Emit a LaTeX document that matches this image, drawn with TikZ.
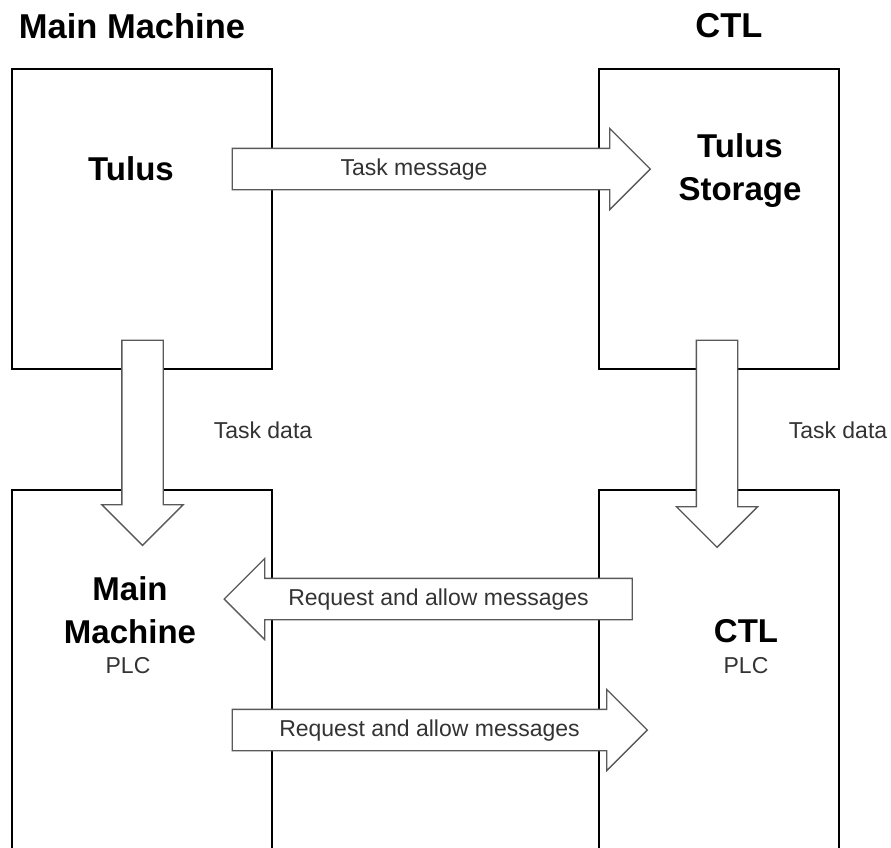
\documentclass[tikz,border=0pt]{standalone}
\usepackage{fontspec}
\setmainfont{Liberation Sans}
\usetikzlibrary{shapes.arrows,positioning}

\begin{document}
\begin{tikzpicture}[
  x=1pt, y=-1pt,
  box/.style={draw, line width=1.1pt, inner sep=0pt},
  head/.style={font=\bfseries\fontsize{33}{43}\selectfont, anchor=base, align=center},
  title/.style={head, font=\bfseries\fontsize{34.5}{43}\selectfont},
  sub/.style={font=\fontsize{23}{27}\selectfont, text=black!80, anchor=base},
  fat/.style={single arrow, draw=black!65, fill=white, line width=1.3pt,
              single arrow head extend=20pt, inner xsep=0pt, inner ysep=9pt,
              text height=17pt, text depth=5pt, text=black!80,
              font=\fontsize{23}{27}\selectfont}
]
\useasboundingbox (0,0) rectangle (891,847);
\clip (0,0) rectangle (891,847);
% machines
\node[box, minimum width=260pt, minimum height=300pt] (mmbox) at (142,219) {};
\node[box, minimum width=240pt, minimum height=300pt] (ctlbox) at (719,219) {};
\node[box, minimum width=260pt, minimum height=420pt] (mmplc) at (142,700) {};
\node[box, minimum width=240pt, minimum height=420pt] (ctlplc) at (719,700) {};
\node[title] (mmtitle) at (132,38) {Main Machine};
\node[title] (ctltitle) at (729,37) {CTL};
\node[head] (tulus) at (131,180) {Tulus};
\node[head, anchor=center] (storage) at (740,171) {Tulus\\Storage};
\node[head, anchor=center] (mmname) at (130,610) {Main\\Machine};
\node[sub] (mmsub) at (128,673) {PLC};
\node[head] (ctlname) at (746,642) {CTL};
\node[sub] (ctlsub) at (746,673) {PLC};
% block arrows
\node[fat, minimum height=418pt] (taskmsg) at (431,169) {Task message\hspace*{34pt}};
\node[fat, minimum height=205pt, rotate=-90] (datal) at (142.5,432.5) {};
\node[fat, minimum height=207pt, rotate=-90] (datar) at (717,433.5) {};
\node[fat, minimum height=408pt, shape border rotate=180] (reqin) at (438.5,599) {Request and allow messages};
\node[fat, minimum height=415pt] (reqout) at (429.5,730) {Request and allow messages};
\node[sub, anchor=center] (datallbl) at (263,430) {Task data};
\node[sub, anchor=center] (datarlbl) at (838,430) {Task data};
\end{tikzpicture}
\end{document}
